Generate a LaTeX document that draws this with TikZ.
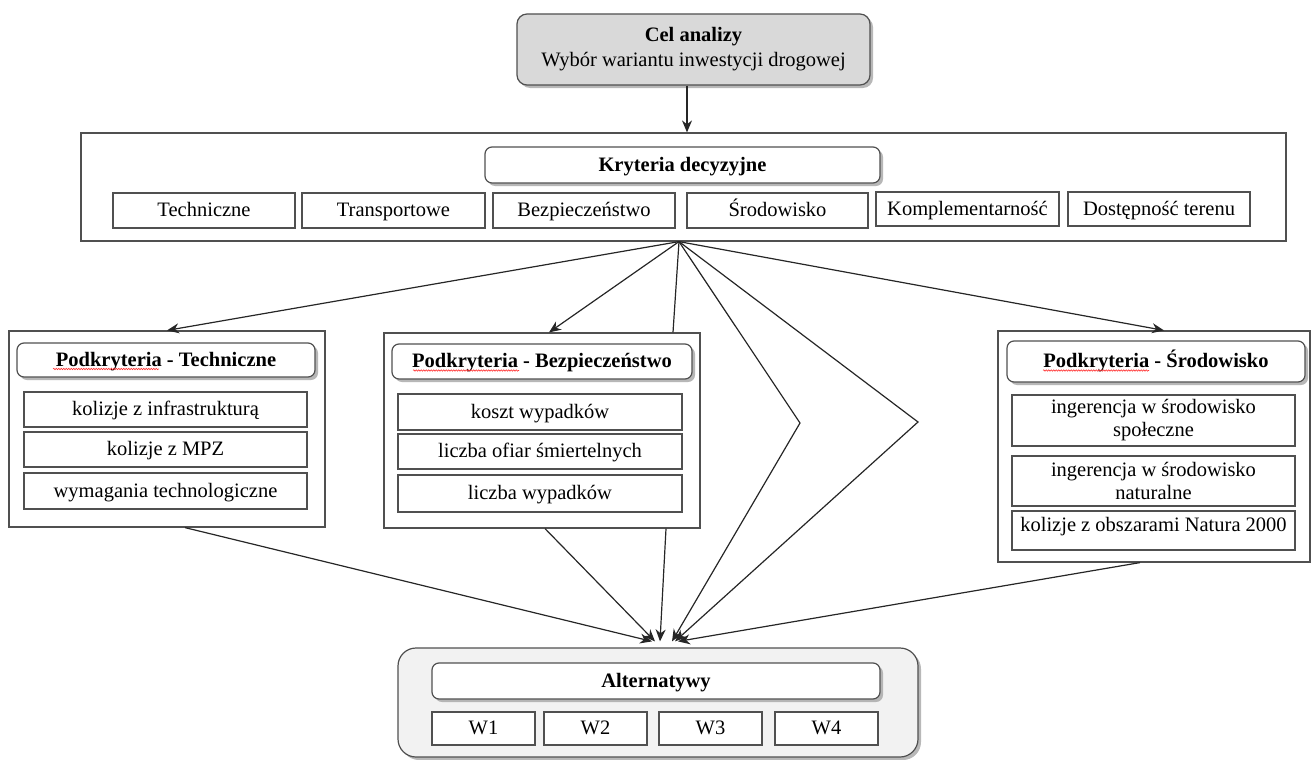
\documentclass[tikz,border=0pt]{standalone}
\usepackage{fontspec}
\setmainfont{Liberation Serif}
\usetikzlibrary{arrows.meta,shadows,decorations.pathmorphing}
\definecolor{bord}{HTML}{505050}
\definecolor{celgray}{HTML}{D9D9D9}
\definecolor{altgray}{HTML}{F2F2F2}
\tikzset{
  base/.style={draw=bord, line width=1.2pt, inner sep=0pt, font=\fontsize{20.5}{23}\selectfont, align=center},
  sq2/.style={base, fill=white},
  sq/.style={base, fill=white, text height=15pt, text depth=3pt},
  shad/.style={drop shadow={shadow xshift=3pt, shadow yshift=-3pt, fill=gray!70, opacity=0.8}},
  rbox/.style={base, fill=white, rounded corners=7pt, shad, text height=15pt, text depth=3pt},
  conn/.style={draw=black!85, line width=1.2pt},
  arr/.style={conn, -{Stealth[length=12pt,width=10pt]}},
  squig/.style={draw=red!80, line width=0.6pt, decorate, decoration={snake, amplitude=0.7pt, segment length=2.5pt}}
}
\begin{document}
\begin{tikzpicture}[x=1pt,y=-1pt]
\useasboundingbox (0,0) rectangle (1312,760);
% goal
\node[base, fill=celgray, rounded corners=10pt, shad, minimum width=353pt, minimum height=71pt, font=\fontsize{20.5}{25}\selectfont] (cel) at (693.5,49.5) {\textbf{Cel analizy}\\Wybór wariantu inwestycji drogowej};
% criteria
\node[sq2, minimum width=1205pt, minimum height=108pt] (kryt) at (683.5,187) {};
\node[rbox, minimum width=395pt, minimum height=36pt] (krytH) at (682.5,165) {\textbf{Kryteria decyzyjne}};
\node[sq, minimum width=182pt, minimum height=35pt] (k1) at (204,210.5) {Techniczne};
\node[sq, minimum width=183pt, minimum height=35pt] (k2) at (393.5,210.5) {Transportowe};
\node[sq, minimum width=182pt, minimum height=35pt] (k3) at (584,210.5) {Bezpieczeństwo};
\node[sq, minimum width=181pt, minimum height=35pt] (k4) at (777.5,210.5) {Środowisko};
\node[sq, minimum width=183pt, minimum height=34pt] (k5) at (967.5,209) {Komplementarność};
\node[sq, minimum width=182pt, minimum height=34pt] (k6) at (1159,209) {Dostępność terenu};
\draw[arr] ([xshift=-6.5pt]cel.south) -- ([xshift=-6.5pt]cel.south |- kryt.north);
% technical
\node[sq2, minimum width=316pt, minimum height=196pt] (T) at (167,429) {};
\node[rbox, minimum width=298pt, minimum height=34pt] (Th) at (166,360) {\textbf{Podkryteria - Techniczne}};
\node[sq, minimum width=283pt, minimum height=35pt] (t1) at (165.5,409.5) {kolizje z infrastrukturą};
\node[sq, minimum width=283pt, minimum height=35pt] (t2) at (165.5,449.5) {kolizje z MPZ};
\node[sq, minimum width=283pt, minimum height=36pt] (t3) at (165.5,491) {wymagania technologiczne};
% safety
\node[sq2, minimum width=316pt, minimum height=195pt] (B) at (542,430.5) {};
\node[rbox, minimum width=300pt, minimum height=35pt] (Bh) at (542,361.5) {\textbf{Podkryteria - Bezpieczeństwo}};
\node[sq, minimum width=284pt, minimum height=36pt] (b1) at (540,412) {koszt wypadków};
\node[sq, minimum width=284pt, minimum height=35pt] (b2) at (540,451.5) {liczba ofiar śmiertelnych};
\node[sq, minimum width=284pt, minimum height=37pt] (b3) at (540,493.5) {liczba wypadków};
% environment
\node[sq2, minimum width=312pt, minimum height=231pt] (S) at (1154,446.5) {};
\node[rbox, minimum width=298pt, minimum height=41pt] (Sh) at (1156,361.5) {\textbf{Podkryteria - Środowisko}};
\node[sq2, minimum width=283pt, minimum height=51pt] (s1) at (1153.5,420.5) {ingerencja w środowisko\\społeczne};
\node[sq2, minimum width=283pt, minimum height=50pt] (s2) at (1153.5,481) {ingerencja w środowisko\\naturalne};
\node[sq2, minimum width=283pt, text height=20pt, text depth=19pt] (s3) at (1153.5,530.5) {kolizje z obszarami Natura 2000};
% squiggles
\draw[squig] ([xshift=-113pt,yshift=-9pt]Th.center) -- ([xshift=-7pt,yshift=-9pt]Th.center);
\draw[squig] ([xshift=-129pt,yshift=-9pt]Bh.center) -- ([xshift=-23pt,yshift=-9pt]Bh.center);
\draw[squig] ([xshift=-113pt,yshift=-9pt]Sh.center) -- ([xshift=-7pt,yshift=-9pt]Sh.center);
% alternatives
\node[sq2, fill=altgray, rounded corners=18pt, shad, minimum width=520pt, minimum height=109pt] (alt) at (658,702.5) {};
\node[rbox, minimum width=448pt, minimum height=36pt] (altH) at (656,681) {\textbf{Alternatywy}};
\node[sq, minimum width=103pt, minimum height=33pt] (w1) at (483.5,728.5) {W1};
\node[sq, minimum width=103pt, minimum height=33pt] (w2) at (595.5,728.5) {W2};
\node[sq, minimum width=103pt, minimum height=33pt] (w3) at (710.5,728.5) {W3};
\node[sq, minimum width=103pt, minimum height=33pt] (w4) at (826.5,728.5) {W4};
% connectors
\coordinate (apex) at ([xshift=-4.5pt]kryt.south);
\coordinate (bend1) at (800,423);
\coordinate (bend2) at (918,422);
\coordinate (tip1) at ([xshift=-6pt,yshift=6pt]alt.north);
\coordinate (tip2) at ([xshift=-3pt,yshift=6pt]alt.north);
\coordinate (tip3) at ([xshift=2pt,yshift=6pt]alt.north);
\coordinate (tip4) at ([xshift=14pt,yshift=6pt]alt.north);
\coordinate (tip5) at ([xshift=17pt,yshift=6pt]alt.north);
\coordinate (tip6) at ([xshift=20pt,yshift=6pt]alt.north);
\draw[arr] (apex) -- (T.north);
\draw[arr] (apex) -- ([xshift=7pt]B.north);
\draw[conn] (apex) -- ([xshift=131pt]B.north);
\draw[arr] (apex) -- (bend1) -- (tip4);
\draw[arr] (apex) -- (bend2) -- (tip5);
\draw[arr] (apex) -- ([xshift=10pt]S.north);
\draw[arr] ([xshift=18pt]T.south) -- (tip1);
\draw[arr] ([xshift=3pt]B.south) -- (tip2);
\draw[arr] ([xshift=124pt]B.south) -- (tip3);
\draw[arr] ([xshift=-14pt]S.south) -- (tip6);
\end{tikzpicture}
\end{document}
